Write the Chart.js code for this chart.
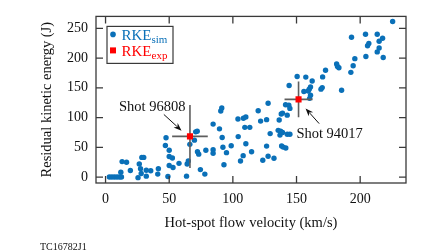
<!DOCTYPE html>
<html><head><meta charset="utf-8">
<script src="https://cdn.jsdelivr.net/npm/chart.js@4/dist/chart.umd.min.js"></script>
<style>html,body{margin:0;padding:0;background:#fff;overflow:hidden}#wrap{width:448px;height:252px;position:relative}</style>
</head><body><div id="wrap"><canvas id="c" width="448" height="252"></canvas></div>
<script>
// ---- data ----
const simX = [3,5,7,9,11,12.5,12,13,16.5,19.5,25.5,26.5,27.5,28.5,30,28,32,35.5,32,41.5,41,
  47,47.5,50,50,52.5,50,53,49,57.7,63.6,64.1,65,66.2,69.8,70.8,72,72.2,73.2,74.5,78,78.8,
  84.5,84.5,84.5,89.5,90.5,91.3,91.6,92.2,93,95,98.7,104,108.3,110.2,104.2,106,108.1,109.4,113.3,
  110.2,114.7,119.9,121.8,126.5,123.5,126.5,127.7,129.3,127.7,132.3,136.4,135.6,137.5,139,137,
  138,139,142.7,142.7,144.8,138.3,139.5,141.6,141.4,144,144.8,144.2,150.5,157.3,162.3,161,160,
  155.8,159.2,161,160.3,170.5,170.2,169.2,172.8,181.5,182.2,183.3,185.4,192.7,194.5,195.8,193.2,
  204.2,213.4,217.6,214.9,206.8,205.8,214.9,213.4,204.5,218.1,225.5];
const simY = [0,0,0,0,0,0,8,26,25,11,-1,22,14,33,33,6,11.5,10.5,1.5,14,5,
  53,66,45,34.5,32,19.5,16,1,23,1.5,22,27,55,62,76,77,42.5,38.5,12.5,5,45,
  89,46,40,81,111,116,66.5,50,20.6,41,52.5,97.5,98.8,101,68,27,36,83.5,83.5,
  56,42.5,111.5,94,96.5,28.3,52,35,73,124,31.5,96,78.5,77,75,70.5,
  106,107.5,104,72,72,52.3,50.3,48.8,121.5,120.6,115.4,153.8,169,168,161.5,151.4,147.7,
  143.7,144.6,137.5,132.3,168.3,150.3,147.7,179.5,190,185.7,183.7,146,176,187,199,235,
  240,240,233.4,228.3,224.6,220.6,217,210.3,202.6,201,261.5];
const expX = [66.3, 151.6];
const expY = [68.3, 130.5];
const expErrX = [14, 11];
const expErrY = [53, 30];
const shotNames = ['Shot 96808', 'Shot 94017'];
const xTicks = [0, 50, 100, 150, 200];
const yTicks = [0, 50, 100, 150, 200, 250];

// annotation anchors in data units
const shotLabelPos = [[10.5, 118], [149.9, 71.8]];
const arrowTail = [[45.8, 105.2], [167.8, 89.8]];
const arrowHead = [[59.7, 78], [157.1, 115.4]];

const BLUE = '#0a70b8', RED = '#ff0000', INK = '#111', FRAME = '#3a3a3a', ERR = '#5e5e5e';
const SERIF = "'Liberation Serif', 'DejaVu Serif', serif";

const sim = simX.map((x, i) => ({x, y: simY[i]}));
const exp = expX.map((x, i) => ({x, y: expY[i]}));
const errSets = [];
expX.forEach((x, i) => {
  errSets.push({type: 'scatter', showLine: true, data: [{x: x - expErrX[i], y: expY[i]}, {x: x + expErrX[i], y: expY[i]}],
    borderColor: ERR, borderWidth: 1.6, pointRadius: 0});
  errSets.push({type: 'scatter', showLine: true, data: [{x, y: expY[i] - expErrY[i]}, {x, y: expY[i] + expErrY[i]}],
    borderColor: ERR, borderWidth: 1.6, pointRadius: 0});
});

function arrow(ctx, x1, y1, x2, y2) {
  const a = Math.atan2(y2 - y1, x2 - x1), L = 8, W = 3;
  ctx.beginPath(); ctx.moveTo(x1, y1); ctx.lineTo(x2 - Math.cos(a) * L * 0.8, y2 - Math.sin(a) * L * 0.8); ctx.stroke();
  ctx.beginPath();
  ctx.moveTo(x2, y2);
  ctx.lineTo(x2 - L * Math.cos(a) + W * Math.sin(a), y2 - L * Math.sin(a) - W * Math.cos(a));
  ctx.lineTo(x2 - L * 0.7 * Math.cos(a), y2 - L * 0.7 * Math.sin(a));
  ctx.lineTo(x2 - L * Math.cos(a) - W * Math.sin(a), y2 - L * Math.sin(a) + W * Math.cos(a));
  ctx.closePath(); ctx.fill();
}

const decor = {
  id: 'decor',
  afterDraw(chart) {
    const {ctx, chartArea: ca, scales: {x: sx, y: sy}} = chart;
    ctx.save();
    // frame
    ctx.strokeStyle = FRAME; ctx.lineWidth = 1.3;
    ctx.strokeRect(ca.left, ca.top, ca.right - ca.left, ca.bottom - ca.top);
    // inward ticks on all sides
    const T = 7;
    ctx.beginPath();
    sx.ticks.forEach(t => {
      const px = sx.getPixelForValue(t.value);
      ctx.moveTo(px, ca.bottom); ctx.lineTo(px, ca.bottom - T);
      ctx.moveTo(px, ca.top); ctx.lineTo(px, ca.top + T);
    });
    sy.ticks.forEach(t => {
      const py = sy.getPixelForValue(t.value);
      ctx.moveTo(ca.left, py); ctx.lineTo(ca.left + T, py);
      ctx.moveTo(ca.right, py); ctx.lineTo(ca.right - T, py);
    });
    ctx.stroke();
    // shot labels and arrows
    ctx.fillStyle = INK; ctx.strokeStyle = INK; ctx.lineWidth = 1;
    ctx.font = "14.5px " + SERIF; ctx.textAlign = 'left'; ctx.textBaseline = 'middle';
    shotNames.forEach((s, i) => {
      ctx.fillText(s, sx.getPixelForValue(shotLabelPos[i][0]), sy.getPixelForValue(shotLabelPos[i][1]));
      arrow(ctx, sx.getPixelForValue(arrowTail[i][0]), sy.getPixelForValue(arrowTail[i][1]),
        sx.getPixelForValue(arrowHead[i][0]), sy.getPixelForValue(arrowHead[i][1]));
    });
    // legend
    const lx = ca.left + 11, ly = ca.top + 10, lw = 66, lh = 37;
    ctx.strokeStyle = FRAME; ctx.lineWidth = 1.2;
    ctx.strokeRect(lx, ly, lw, lh);
    const rows = [{c: BLUE, sub: 'sim', m: 'circle', yc: ly + 8}, {c: RED, sub: 'exp', m: 'rect', yc: ly + 24}];
    rows.forEach(r => {
      ctx.fillStyle = r.c;
      if (r.m === 'circle') { ctx.beginPath(); ctx.arc(lx + 6, r.yc, 2.8, 0, Math.PI * 2); ctx.fill(); }
      else ctx.fillRect(lx + 3, r.yc - 3, 6, 6);
      ctx.textBaseline = 'alphabetic'; ctx.textAlign = 'left';
      ctx.font = "15px " + SERIF;
      ctx.fillText('RKE', lx + 14.5, r.yc + 6);
      const w = ctx.measureText('RKE').width;
      ctx.font = "11px " + SERIF;
      ctx.fillText(r.sub, lx + 14.5 + w, r.yc + 9);
    });
    // figure code
    ctx.fillStyle = INK; ctx.font = "10px " + SERIF; ctx.textBaseline = 'middle';
    ctx.fillText('TC16782J1', 40, 247);
    ctx.restore();
  }
};

new Chart(document.getElementById('c'), {
  type: 'scatter',
  data: {datasets: [
    {label: 'RKE exp', data: exp, pointStyle: 'rect', pointRadius: 4.3, backgroundColor: RED, borderWidth: 0},
    ...errSets,
    {label: 'RKE sim', data: sim, pointRadius: 2.7, backgroundColor: BLUE, borderWidth: 0}
  ]},
  options: {
    responsive: false, animation: false, devicePixelRatio: 1,
    layout: {padding: {top: 1, right: 42, bottom: 0, left: 0}},
    plugins: {legend: {display: false}, tooltip: {enabled: false}},
    scales: {
      x: {type: 'linear', min: -7.5, max: 236,
        afterBuildTicks: s => { s.ticks = xTicks.map(v => ({value: v})); },
        afterFit: s => { s.height = 69; },
        grid: {display: false, drawTicks: false}, border: {display: false},
        ticks: {padding: 8, color: INK, font: {family: SERIF, size: 14}, maxRotation: 0},
        title: {display: true, text: 'Hot-spot flow velocity (km/s)', color: INK,
          font: {family: SERIF, size: 14.5}, padding: {top: 0, bottom: 20.5}}},
      y: {type: 'linear', min: -10, max: 270,
        afterBuildTicks: s => { s.ticks = yTicks.map(v => ({value: v})); },
        afterFit: s => { s.width = 96; },
        grid: {display: false, drawTicks: false}, border: {display: false},
        ticks: {padding: 8, color: INK, font: {family: SERIF, size: 14}},
        title: {display: true, text: 'Residual kinetic energy (J)', color: INK,
          font: {family: SERIF, size: 14.5}, padding: {top: 38.5, bottom: 0}}}
    }
  },
  plugins: [decor]
});
</script></body></html>
